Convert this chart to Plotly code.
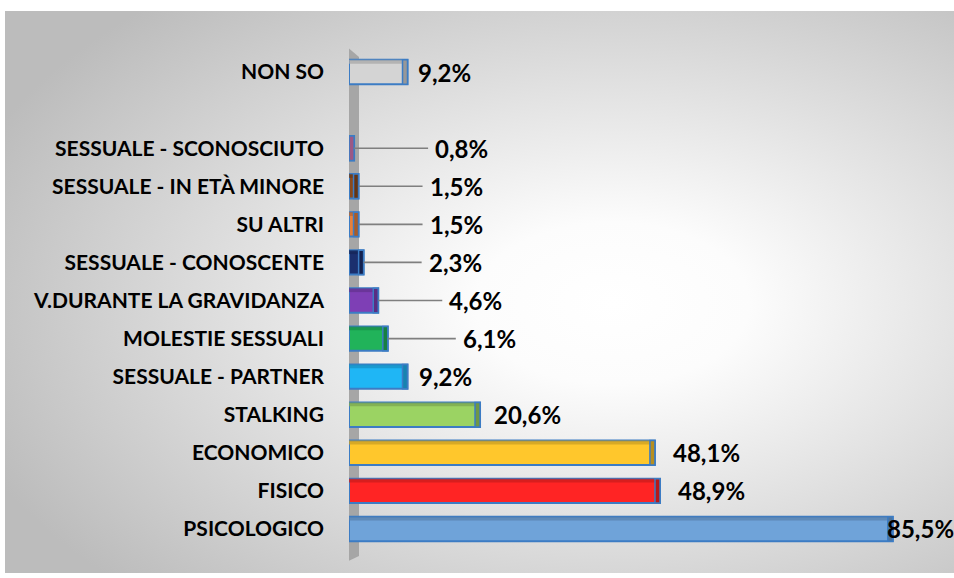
import base64
import plotly.graph_objects as go

# ---------------- data (top to bottom) ----------------
categories = ["NON SO", " ", "SESSUALE - SCONOSCIUTO", "SESSUALE - IN ETÀ MINORE",
              "SU ALTRI", "SESSUALE - CONOSCENTE", "V.DURANTE LA GRAVIDANZA",
              "MOLESTIE SESSUALI", "SESSUALE - PARTNER", "STALKING", "ECONOMICO",
              "FISICO", "PSICOLOGICO"]
values = [9.2, None, 0.8, 1.5, 1.5, 2.3, 4.6, 6.1, 9.2, 20.6, 48.1, 48.9, 85.5]
value_labels = ["9,2%", "", "0,8%", "1,5%", "1,5%", "2,3%", "4,6%", "6,1%",
                "9,2%", "20,6%", "48,1%", "48,9%", "85,5%"]

# ---------------- styles ----------------
bar_colors = ["#D4D4D4", "#FFFFFF", "#D97BB9", "#8B4A1C", "#E8803A", "#1B2F6E",
              "#7E3FB5", "#21B35A", "#1FB6F5", "#9BD363", "#FFC72C", "#FF2424",
              "#6FA3D9"]
label_offsets = [8, 0, 74, 64, 64, 58, 64, 68, 9, 12, 16, 16, -8]
leader = [False, False, True, True, True, True, True, True, False, False, False, False, False]
OUTLINE = "#3C7CC4"


def shade(hex_color, f):
    h = hex_color.lstrip("#")
    r, g, b = (int(h[i:i + 2], 16) for i in (0, 2, 4))
    return "#%02X%02X%02X" % (int(r * f), int(g * f), int(b * f))


W, H = 954, 578
ML, MR, MT, MB = 349, 0, 53, 30
plot_w = W - ML - MR
plot_h = H - MT - MB
px_per_unit = 6.36
xmax = plot_w / px_per_unit

BAR_W = 0.64          # front face thickness (category units)
TOP_T = 0.10          # top face thickness
DEPTH = 5 / px_per_unit  # right face depth (5 px in data units)

fig = go.Figure()
# front face
fig.add_trace(go.Bar(
    y=categories, x=values, orientation="h", width=BAR_W,
    marker=dict(color=bar_colors, line=dict(color=OUTLINE, width=2)),
    hoverinfo="skip", showlegend=False,
))
# top face (thin darker strip along the top edge)
fig.add_trace(go.Bar(
    y=categories, x=values, orientation="h", width=TOP_T,
    offset=BAR_W / 2 - TOP_T,
    marker=dict(color=[shade(c, 0.8) for c in bar_colors], line=dict(width=0)),
    opacity=0.75, hoverinfo="skip", showlegend=False,
))
# right face (depth)
fig.add_trace(go.Bar(
    y=categories, x=[DEPTH if v is not None else None for v in values],
    base=[(v - DEPTH) if v is not None else None for v in values],
    orientation="h", width=BAR_W,
    marker=dict(color=[shade(c, 0.72) for c in bar_colors], line=dict(color=OUTLINE, width=1.5)),
    hoverinfo="skip", showlegend=False,
))

font_val = dict(family="Lato", size=24, color="#000000", weight="bold")
annotations = []
for cat, v, lab, off, ld in zip(categories, values, value_labels, label_offsets, leader):
    if v is None:
        continue
    if ld:
        annotations.append(dict(x=v, y=cat, xref="x", yref="y", text=lab,
                                showarrow=True, arrowhead=0, arrowwidth=1.6,
                                arrowcolor="#7F7F7F", ax=off, ay=0,
                                xanchor="left", yanchor="middle", borderpad=6,
                                font=font_val, standoff=0))
    else:
        annotations.append(dict(x=v, y=cat, xref="x", yref="y", text=lab,
                                showarrow=False, xanchor="left", yanchor="middle",
                                xshift=off, font=font_val))

# background radial gradient
svg = ('<svg xmlns="http://www.w3.org/2000/svg" width="949" height="562" '
       'viewBox="0 0 949 562" preserveAspectRatio="none"><defs>'
       '<radialGradient id="g" cx="0.64" cy="0.52" r="0.72">'
       '<stop offset="0" stop-color="#ffffff"/>'
       '<stop offset="0.2" stop-color="#fcfcfc"/>'
       '<stop offset="1" stop-color="#bcbcbc"/>'
       '</radialGradient></defs>'
       '<rect width="949" height="562" fill="url(#g)"/></svg>')
src = "data:image/svg+xml;base64," + base64.b64encode(svg.encode()).decode()
bg_left, bg_top, bg_right, bg_bottom = 5, 11, 954, 573
images = [dict(source=src, xref="paper", yref="paper",
               x=(bg_left - ML) / plot_w, y=1 + (MT - bg_top) / plot_h,
               sizex=(bg_right - bg_left) / plot_w, sizey=(bg_bottom - bg_top) / plot_h,
               xanchor="left", yanchor="top", sizing="stretch", layer="below")]

# axis "wall"
ytop = 1 + (MT - 46) / plot_h
ybot = -(562 - (H - MB)) / plot_h
shapes = [
    dict(type="path", xref="x", yref="paper", xsizemode="pixel", xanchor=0,
         path=f"M -3 {ytop} L 10 {ytop - 0.022} L 10 {ybot + 0.012} L -3 {ybot} Z",
         fillcolor="#A6A6A6", line=dict(width=0), layer="below"),
    dict(type="path", xref="x", yref="paper", xsizemode="pixel", xanchor=0,
         path=f"M -6 {ytop} L -3 {ytop} L -3 {ybot} L -6 {ybot} Z",
         fillcolor="#595959", line=dict(width=0), layer="below"),
]

fig.update_layout(
    width=W, height=H,
    margin=dict(l=ML, r=MR, t=MT, b=MB, pad=0),
    paper_bgcolor="#FFFFFF", plot_bgcolor="rgba(0,0,0,0)",
    barmode="overlay",
    xaxis=dict(range=[0, xmax], visible=False, fixedrange=True),
    yaxis=dict(categoryorder="array", categoryarray=categories[::-1],
               showgrid=False, zeroline=False, showline=False, ticks="",
               ticklabelstandoff=24, fixedrange=True,
               tickfont=dict(family="Lato", size=21, color="#000000", weight="bold")),
    annotations=annotations, images=images, shapes=shapes,
)

fig.write_html("out.html", config={"displayModeBar": False},
               post_script="document.body.style.margin='0';"
                           "document.body.style.overflow='hidden';")
